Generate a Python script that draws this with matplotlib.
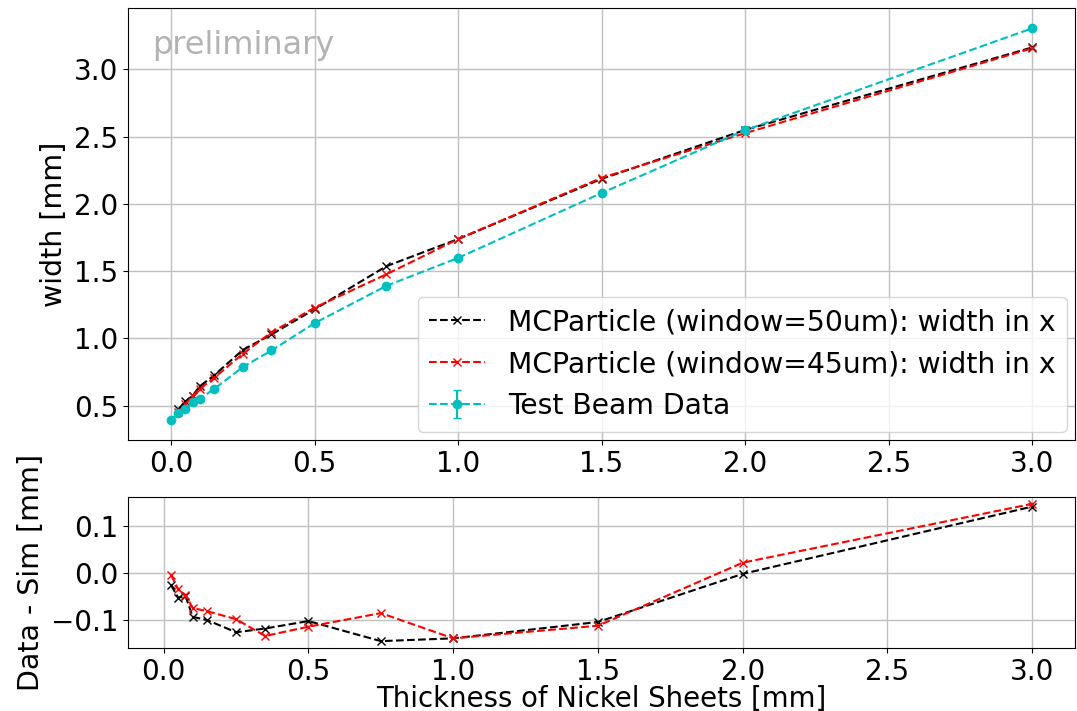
import numpy as np
from matplotlib import pyplot as plt

# thickness of nickel sheets [mm]
thickness_data = np.array([0.0, 0.025, 0.05, 0.075, 0.1, 0.15, 0.25, 0.35, 0.5, 0.75, 1.0, 1.5, 2.0, 3.0])
width_data = np.array([0.396, 0.446, 0.478, 0.524, 0.550, 0.624, 0.787, 0.910, 1.113, 1.390, 1.598, 2.080, 2.547, 3.304])
width_data_err = np.array([0.005, 0.005, 0.005, 0.005, 0.005, 0.005, 0.005, 0.005, 0.005, 0.005, 0.005, 0.005, 0.005, 0.005])

thickness_sim = np.array([0.025, 0.05, 0.075, 0.1, 0.15, 0.25, 0.35, 0.5, 0.75, 1.0, 1.5, 2.0, 3.0])
width_sim_50 = np.array([0.472, 0.531, 0.573, 0.644, 0.725, 0.914, 1.029, 1.216, 1.536, 1.738, 2.185, 2.549, 3.162])
width_sim_45 = np.array([0.450, 0.513, 0.571, 0.625, 0.706, 0.886, 1.045, 1.228, 1.476, 1.738, 2.193, 2.525, 3.156])

# residuals, data points that have a simulation partner
diff_50 = width_data[1:] - width_sim_50
diff_45 = width_data[1:] - width_sim_45

plt.rcParams['font.size'] = 20

fig = plt.figure(figsize=(10.77, 7.11), dpi=100)
ax_top = fig.add_axes([0.1188, 0.3812, 0.8795, 0.6075])
ax_bot = fig.add_axes([0.1188, 0.0886, 0.8795, 0.2124])

ax_top.plot(thickness_sim, width_sim_50, 'kx--', label='MCParticle (window=50um): width in x')
ax_top.plot(thickness_sim, width_sim_45, 'rx--', label='MCParticle (window=45um): width in x')
ax_top.errorbar(thickness_data, width_data, yerr=width_data_err, fmt='co--', capsize=3,
                label='Test Beam Data')
ax_top.set_ylabel('width [mm]', fontsize=20.5)
ax_top.grid(color='#c0c0c0', linewidth=1)
ax_top.legend(loc='lower right', fontsize=20.3, handlelength=2.0, borderaxespad=0.3)
ax_top.text(0.025, 0.95, 'preliminary', transform=ax_top.transAxes, color='#b3b3b3',
            fontsize=23, ha='left', va='top')

ax_bot.plot(thickness_sim, diff_50, 'kx--')
ax_bot.plot(thickness_sim, diff_45, 'rx--')
ax_bot.set_xlabel('Thickness of Nickel Sheets [mm]', fontsize=19.8, labelpad=-0.5)
ax_bot.set_ylabel('Data - Sim [mm]', fontsize=20.5)
ax_bot.grid(color='#c0c0c0', linewidth=1)

fig.savefig('out.png', dpi=100)
